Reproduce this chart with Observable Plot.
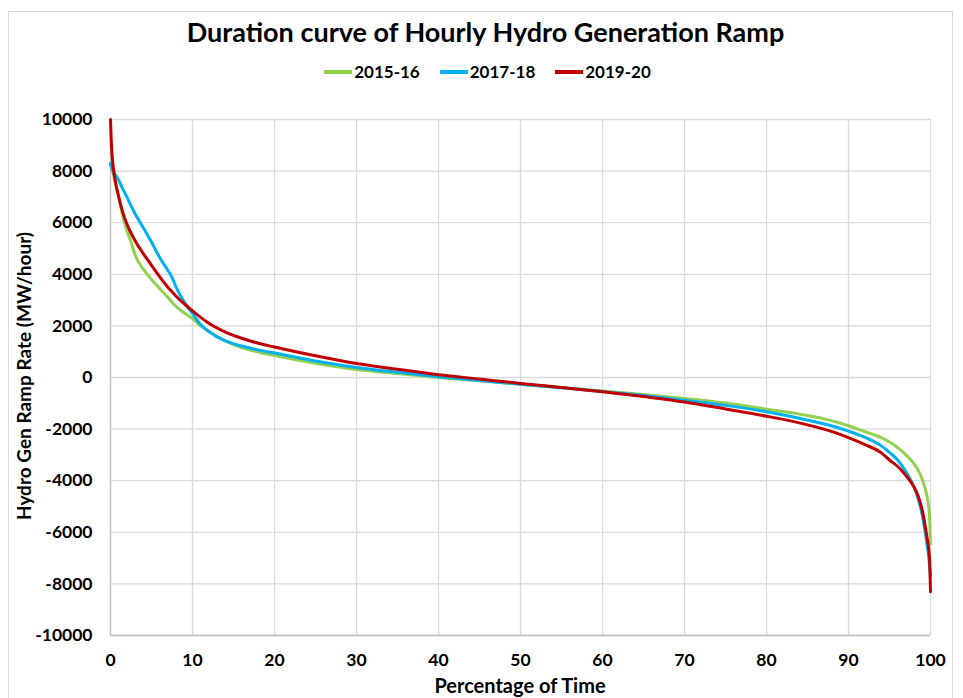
<!DOCTYPE html>
<html>
<head>
<meta charset="utf-8">
<script src="https://cdn.jsdelivr.net/npm/d3@7"></script>
<script src="https://cdn.jsdelivr.net/npm/@observablehq/plot@0.6"></script>
<style>
  body { margin: 0; background: #fff; font-family: Lato, "Open Sans", sans-serif; }
  #wrap { position: relative; width: 963px; height: 698px; overflow: hidden; background: #fff; }
  #frame { position: absolute; left: 8px; top: 11px; width: 945px; height: 720px; border: 1px solid #d9d9d9; box-sizing: border-box; }
  #chart { position: absolute; left: 0; top: 0; }
  #title { position: absolute; top: 15px; left: 0; width: 963px; padding-left: 8px; box-sizing: border-box; text-align: center; font-weight: bold; font-size: 27px; color: #000; }
  #legend { position: absolute; top: 61px; left: 0; width: 963px; padding-left: 12px; box-sizing: border-box; display: flex; justify-content: center; gap: 20px; font-weight: bold; font-size: 17px; color: #000; }
  .item { display: flex; align-items: center; gap: 2px; }
  .sw { display: inline-block; width: 28px; height: 4px; }
  #xtitle { position: absolute; top: 673px; left: 0; width: 963px; padding-left: 77px; box-sizing: border-box; text-align: center; font-weight: bold; font-size: 20px; color: #000; }
  #ytitle { position: absolute; left: 23px; top: 376px; transform: translate(-50%, -50%) rotate(-90deg); white-space: nowrap; font-weight: bold; font-size: 19px; color: #000; }
</style>
</head>
<body>
<div id="wrap">
  <div id="frame"></div>
  <div id="chart"></div>
  <div id="title"></div>
  <div id="legend"></div>
  <div id="xtitle"></div>
  <div id="ytitle"></div>
</div>
<script>
// ---- data ----
const titleText = "Duration curve of Hourly Hydro Generation Ramp";
const xTitle = "Percentage of Time";
const yTitle = "Hydro Gen Ramp Rate (MW/hour)";

const seriesNames = ["2015-16", "2017-18", "2019-20"];
const seriesColors = ["#92d050", "#00b0f0", "#c00000"];

const xTicks = [0, 10, 20, 30, 40, 50, 60, 70, 80, 90, 100];
const yTicks = [-10000, -8000, -6000, -4000, -2000, 0, 2000, 4000, 6000, 8000, 10000];

const pct = [0, 0.1, 0.3, 0.6, 1, 1.5, 2, 2.5, 3, 4, 5, 6, 7, 7.5, 8, 9, 10, 11, 12, 14, 16, 18, 20, 25, 30, 35, 40, 45, 50, 55, 60, 65, 70, 75, 80, 84, 88, 90, 92, 94, 95, 96, 97, 98, 98.5, 99, 99.5, 99.8, 99.9, 100];

const ramp2015 = [8300, 8200, 7950, 7500, 7000, 6250, 5700, 5250, 4750, 4200, 3800, 3450, 3100, 2920, 2750, 2500, 2280, 2000, 1780, 1420, 1160, 990, 850, 550, 310, 150, 0, -130, -260, -390, -520, -660, -810, -990, -1230, -1420, -1680, -1870, -2100, -2330, -2500, -2720, -3000, -3350, -3600, -3950, -4500, -5050, -5500, -6450];

const ramp2017 = [8300, 8150, 8000, 7850, 7650, 7300, 7000, 6650, 6350, 5800, 5250, 4650, 4150, 3880, 3500, 2920, 2480, 2050, 1780, 1420, 1220, 1070, 950, 640, 390, 200, 30, -120, -260, -400, -540, -700, -880, -1080, -1330, -1580, -1880, -2080, -2320, -2650, -2900, -3200, -3650, -4250, -4700, -5350, -6300, -7000, -7350, -7700];

const ramp2019 = [10000, 9100, 8250, 7600, 7000, 6400, 5950, 5600, 5300, 4800, 4350, 3900, 3500, 3320, 3150, 2850, 2580, 2330, 2100, 1760, 1520, 1330, 1180, 840, 540, 320, 110, -60, -230, -390, -550, -740, -950, -1220, -1500, -1760, -2100, -2330, -2600, -2920, -3200, -3450, -3800, -4250, -4600, -5150, -6050, -6700, -7100, -8300];

// ---- build table ----
const seriesValues = [ramp2015, ramp2017, ramp2019];
const data = seriesValues.flatMap((arr, i) =>
  arr.map((v, j) => ({ pct: pct[j], ramp: v, series: seriesNames[i] }))
);

document.getElementById("title").textContent = titleText;
document.getElementById("xtitle").textContent = xTitle;
document.getElementById("ytitle").textContent = yTitle;

const legend = document.getElementById("legend");
seriesNames.forEach((name, i) => {
  const item = document.createElement("span");
  item.className = "item";
  const sw = document.createElement("span");
  sw.className = "sw";
  sw.style.background = seriesColors[i];
  const t = document.createElement("span");
  t.textContent = name;
  item.appendChild(sw);
  item.appendChild(t);
  legend.appendChild(item);
});

const chart = Plot.plot({
  width: 963,
  height: 698,
  marginTop: 119,
  marginBottom: 63,
  marginLeft: 110,
  marginRight: 33,
  style: { fontFamily: "Lato, 'Open Sans', sans-serif", fontWeight: "bold", fontSize: "17.5px", color: "#000", background: "transparent", overflow: "visible" },
  x: { domain: [0, 100] },
  y: { domain: [-10000, 10000] },
  color: { domain: seriesNames, range: seriesColors },
  marks: [
    Plot.gridX(xTicks, { stroke: "#d9d9d9", strokeOpacity: 1, strokeWidth: 1.3 }),
    Plot.gridY(yTicks, { stroke: "#d9d9d9", strokeOpacity: 1, strokeWidth: 1.3 }),
    Plot.ruleX([0], { stroke: "#bfbfbf", strokeWidth: 1.3 }),
    Plot.ruleY([-10000], { stroke: "#bfbfbf", strokeWidth: 1.3 }),
    Plot.axisX(xTicks, { tickSize: 0, tickPadding: 18, label: null, tickFormat: d => String(d) }),
    Plot.axisY(yTicks, { tickSize: 0, tickPadding: 18, label: null, tickFormat: d => String(d) }),
    Plot.line(data, { x: "pct", y: "ramp", z: "series", stroke: "series", strokeWidth: 3, curve: "monotone-x" })
  ]
});
document.getElementById("chart").appendChild(chart);
</script>
</body>
</html>
